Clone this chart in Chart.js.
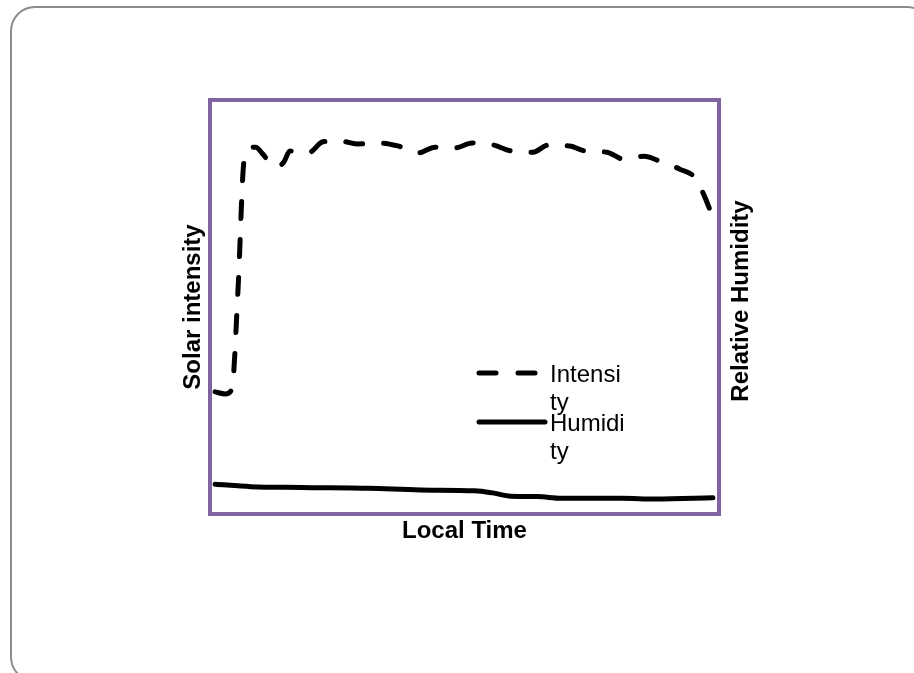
<!DOCTYPE html>
<html><head><meta charset="utf-8">
<script src="https://cdn.jsdelivr.net/npm/chart.js@4"></script>
<style>
html,body{margin:0;padding:0;background:#fff;}
body{width:914px;height:673px;overflow:hidden;position:relative;}
#frame{position:absolute;left:10px;top:6px;width:922px;height:676px;border:2px solid #8c8c8c;border-radius:25px;box-sizing:border-box;}
#wrap{position:absolute;left:0;top:0;width:914px;height:673px;}
</style></head>
<body>
<div id="frame"></div>
<div id="wrap"><canvas id="c" width="914" height="673"></canvas></div>
<script>
// Data (time and values in relative units 0-100)
const intensityTime = [1.0, 3.0, 4.3, 5.5, 6.7, 7.9, 9.0, 10.2, 11.8, 13.0, 14.5, 15.7, 16.7, 19.3, 22.2, 25.5, 28.9, 33.6, 36.9, 40.9, 44.2, 48.1, 51.5, 55.8, 59.1, 63.5, 66.4, 70.7, 73.7, 78.0, 81.3, 85.3, 88.2, 92.3, 95.3, 97.2, 98.6];
const intensity = [29.5, 29.0, 30.2, 54.1, 85.5, 88.4, 88.6, 87.2, 84.8, 83.8, 85.0, 87.7, 87.4, 87.2, 89.9, 90.1, 89.4, 89.6, 88.9, 87.2, 88.6, 88.4, 89.6, 89.1, 87.7, 87.4, 89.1, 88.9, 87.7, 87.4, 85.7, 86.4, 85.3, 83.3, 81.2, 76.6, 72.2];
const humidityTime = [1.0, 8.0, 17.9, 31.2, 41.3, 52.0, 55.5, 59.1, 64.4, 69.0, 80.9, 87.6, 98.8];
const humidity = [7.2, 6.6, 6.4, 6.2, 5.8, 5.6, 5.1, 4.3, 4.2, 3.8, 3.8, 3.6, 3.9];
const seriesLabels = ["Intensity", "Humidity"];
const legendLines = [["Intensi", "ty"], ["Humidi", "ty"]];
const axisTitles = {x: "Local Time", y: "Solar intensity", y1: "Relative Humidity"};

const FONT = "'Liberation Sans', Arial, sans-serif";
const PURPLE = "#8064A2";

const frameBorder = {
  id: 'frameBorder',
  beforeDatasetsDraw(chart) {
    const {ctx, chartArea: a} = chart;
    ctx.save();
    ctx.strokeStyle = PURPLE;
    ctx.lineWidth = 4;
    ctx.strokeRect(a.left, a.top, a.right - a.left, a.bottom - a.top);
    ctx.restore();
  }
};

// Right axis title reads bottom-to-top in the reference
const rightTitle = {
  id: 'rightTitle',
  afterDraw(chart) {
    const s = chart.scales.y1;
    const ctx = chart.ctx;
    ctx.save();
    ctx.translate(s.right - 18.4, (s.top + s.bottom) / 2 - 6);
    ctx.rotate(-Math.PI / 2);
    ctx.font = 'bold 24px ' + FONT;
    ctx.fillStyle = '#000';
    ctx.textAlign = 'center';
    ctx.textBaseline = 'middle';
    ctx.fillText(axisTitles.y1, 0, 0);
    ctx.restore();
  }
};

const customLegend = {
  id: 'customLegend',
  afterDraw(chart) {
    const ctx = chart.ctx;
    const items = [
      {y: 373, x0: 479, x1: 539, dash: [17, 22], base: [382, 410]},
      {y: 422, x0: 479, x1: 545, dash: [], base: [431, 459]}
    ];
    ctx.save();
    items.forEach((it, i) => {
      const ds = chart.data.datasets[i];
      ctx.beginPath();
      ctx.strokeStyle = ds.borderColor;
      ctx.lineWidth = ds.borderWidth;
      ctx.lineCap = 'round';
      ctx.setLineDash(it.dash);
      ctx.moveTo(it.x0, it.y);
      ctx.lineTo(it.x1, it.y);
      ctx.stroke();
      ctx.setLineDash([]);
      ctx.fillStyle = '#000';
      ctx.font = '24px ' + FONT;
      ctx.textBaseline = 'alphabetic';
      ctx.textAlign = 'left';
      legendLines[i].forEach((t, j) => ctx.fillText(t, 550, it.base[j]));
    });
    ctx.restore();
  }
};

function axisTitle(text) {
  return {display: true, text: text, color: '#000', padding: {top: 4, bottom: 4},
          font: {family: FONT, size: 24, weight: 'bold'}};
}

new Chart(document.getElementById('c'), {
  type: 'line',
  data: {
    datasets: [
      {
        label: seriesLabels[0],
        data: intensityTime.map((t, i) => ({x: t, y: intensity[i]})),
        borderColor: '#000', borderWidth: 5, borderDash: [17, 21], borderCapStyle: 'round',
        pointRadius: 0, fill: false, cubicInterpolationMode: 'monotone', yAxisID: 'y'
      },
      {
        label: seriesLabels[1],
        data: humidityTime.map((t, i) => ({x: t, y: humidity[i]})),
        borderColor: '#000', borderWidth: 5, borderCapStyle: 'round',
        pointRadius: 0, fill: false, cubicInterpolationMode: 'monotone', yAxisID: 'y1'
      }
    ]
  },
  options: {
    responsive: false, animation: false, devicePixelRatio: 1,
    layout: {padding: {left: 175, right: 154.6, top: 100, bottom: 123.6}},
    plugins: {legend: {display: false}, tooltip: {enabled: false}},
    scales: {
      x: {type: 'linear', min: 0, max: 100, ticks: {display: false}, grid: {display: false}, border: {display: false},
          title: axisTitle(axisTitles.x), afterFit: s => { s.height = 35.4; }},
      y: {position: 'left', min: 0, max: 100, ticks: {display: false}, grid: {display: false}, border: {display: false},
          title: axisTitle(axisTitles.y), afterFit: s => { s.width = 35; }},
      y1: {position: 'right', min: 0, max: 100, ticks: {display: false}, grid: {display: false}, border: {display: false},
          title: {display: false}, afterFit: s => { s.width = 40.4; }}
    }
  },
  plugins: [frameBorder, rightTitle, customLegend]
});
</script>
</body></html>
